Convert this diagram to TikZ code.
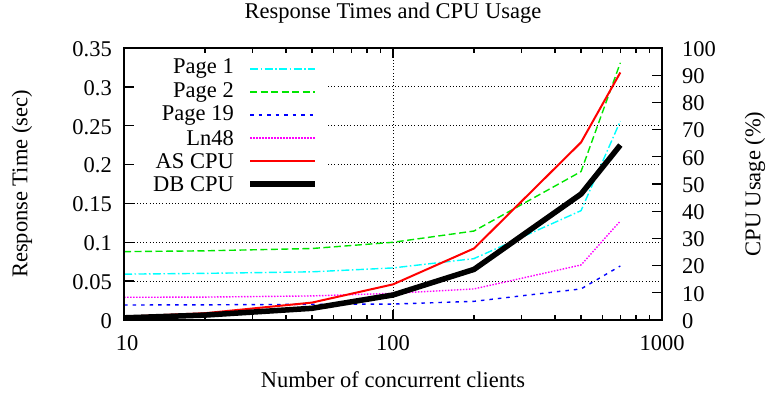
\documentclass[tikz,border=0pt]{standalone}
\usepackage{fontspec}
\setmainfont{Liberation Serif}
\definecolor{gpcyan}{RGB}{0,255,255}
\definecolor{gpgreen}{RGB}{0,230,0}
\definecolor{gpblue}{RGB}{0,0,255}
\definecolor{gpmagenta}{RGB}{255,0,255}
\definecolor{gpred}{RGB}{255,0,0}
\begin{document}
\begin{tikzpicture}[x=1pt,y=1pt,
  lbl/.style={font=\fontsize{22.5}{26}\selectfont, inner sep=0pt},
  gridline/.style={line width=0.8pt, dash pattern=on 1pt off 2.2pt},
  frame/.style={line width=1.6pt, line cap=rect},
  tick/.style={line width=1.3pt},
  pageone/.style={gpcyan, line width=1.4pt, dash pattern=on 8pt off 2.5pt on 1.5pt off 2.5pt},
  pagetwo/.style={gpgreen, line width=1.4pt, dash pattern=on 7pt off 3.5pt},
  pagenineteen/.style={gpblue, line width=1.4pt, dash pattern=on 3.5pt off 5pt},
  lnfortyeight/.style={gpmagenta, line width=1.4pt, dash pattern=on 1.5pt off 1.5pt},
  ascpu/.style={gpred, line width=2pt, line join=round},
  dbcpu/.style={black, line width=5.5pt, line join=round}]
\useasboundingbox (0,0) rectangle (771,394);

% plot frame corners
\coordinate (ll) at (124,74);
\coordinate (ur) at (662,346);

% grid: horizontal lines (key area left clear), vertical line at 100
\foreach \v in {0.05,0.1,0.15}
  \draw[gridline] (124,{74+777.14*\v}) -- (662,{74+777.14*\v});
\foreach \v in {0.2,0.25,0.3}
  \draw[gridline] (328,{74+777.14*\v}) -- (662,{74+777.14*\v});
\draw[gridline] (393,74) -- (393,346);

% left axis ticks and labels
\foreach \v/\t in {0/0,0.05/0.05,0.1/0.1,0.15/0.15,0.2/0.2,0.25/0.25,0.3/0.3,0.35/0.35} {
  \draw[tick] (124,{74+777.14*\v}) -- (134,{74+777.14*\v});
  \node[lbl, anchor=east] at (112,{73+777.14*\v}) {\t};
}
% right axis ticks and labels
\foreach \p in {0,10,...,100} {
  \draw[tick] (662,{74+2.72*\p}) -- (652,{74+2.72*\p});
  \node[lbl, anchor=west] at (682,{73+2.72*\p}) {\p};
}
% x axis ticks (log scale), bottom and top
\foreach \d in {10,100} {
  \foreach \k in {2,...,9} {
    \pgfmathsetmacro\xx{124+269*log10(\k*\d/10)}
    \draw[tick] (\xx,74) -- (\xx,79);
    \draw[tick] (\xx,346) -- (\xx,341);
  }
}
\foreach \xx in {124,393,662} {
  \draw[tick] (\xx,74) -- (\xx,84);
  \draw[tick] (\xx,346) -- (\xx,336);
}
\node[lbl] (xten) at (127,51) {10};
\node[lbl] (xhundred) at (393,51) {100};
\node[lbl] (xthousand) at (662,51) {1000};

% titles
\node[lbl] (title) at (393,381) {Response Times and CPU Usage};
\node[lbl] (xlabel) at (393,14) {Number of concurrent clients};
\node[lbl, rotate=90] (ylabel) at (22,210) {Response Time (sec)};
\node[lbl, rotate=90] (ytwolabel) at (755,210) {CPU Usage (\%)};

% key
\node[lbl, anchor=east] (k1) at (234,325) {Page 1};
\node[lbl, anchor=east] (k2) at (234,302) {Page 2};
\node[lbl, anchor=east] (k3) at (234,279) {Page 19};
\node[lbl, anchor=east] (k4) at (234,256) {Ln48};
\node[lbl, anchor=east] (k5) at (234,233) {AS CPU};
\node[lbl, anchor=east] (k6) at (234,210) {DB CPU};
\draw[pageone] (250,325) -- (315,325);
\draw[pagetwo] (250,302) -- (315,302);
\draw[pagenineteen] (250,279) -- (315,279);
\draw[lnfortyeight] (250,256) -- (315,256);
\draw[ascpu] (250,233) -- (315,233);
\draw[dbcpu] (250,210) -- (315,210);

% response times (left axis)
\begin{scope}[shift={(124pt,74pt)}, x=269pt, y=777.14pt]
  \draw[pageone] (0,0.059) -- (0.30103,0.060) -- (0.69897,0.062) -- (1,0.067)
    -- (1.30103,0.079) -- (1.69897,0.1407) -- (1.845098,0.256);
  \draw[pagetwo] (0,0.088) -- (0.30103,0.089) -- (0.69897,0.092) -- (1,0.100)
    -- (1.30103,0.1145) -- (1.69897,0.191) -- (1.845098,0.331);
  \draw[pagenineteen] (0,0.0193) -- (0.30103,0.0195) -- (0.69897,0.0202) -- (1,0.0205)
    -- (1.30103,0.024) -- (1.69897,0.040) -- (1.845098,0.0695);
  \draw[lnfortyeight] (0,0.0292) -- (0.30103,0.0295) -- (0.69897,0.031) -- (1,0.0343)
    -- (1.30103,0.040) -- (1.69897,0.0708) -- (1.845098,0.1274);
\end{scope}

% CPU usage (right axis)
\begin{scope}[shift={(124pt,74pt)}, x=269pt, y=2.72pt]
  \draw[ascpu] (0,1.2) -- (0.30103,2.5) -- (0.69897,6.4) -- (1,13.1)
    -- (1.30103,26.3) -- (1.69897,65.3) -- (1.845098,91);
  \draw[dbcpu] (0,0.8) -- (0.30103,1.8) -- (0.69897,4.3) -- (1,9.2)
    -- (1.30103,18.6) -- (1.69897,46.3) -- (1.845098,64.3);
\end{scope}

% frame on top
\draw[frame] (ll) rectangle (ur);
\end{tikzpicture}
\end{document}
